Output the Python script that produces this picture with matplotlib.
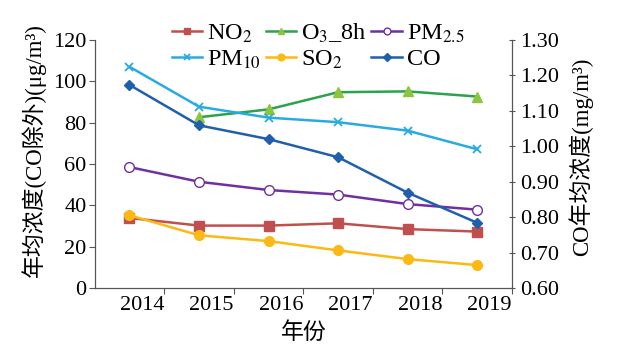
import numpy as np
import matplotlib
matplotlib.use("Agg")
import matplotlib.pyplot as plt

plt.rcParams['font.family'] = ['Liberation Serif', 'Noto Sans CJK SC']
plt.rcParams['mathtext.fontset'] = 'stix'

# annual mean concentrations
years = ['2014', '2015', '2016', '2017', '2018', '2019']
no2 = [33.9, 30.2, 30.2, 31.3, 28.5, 27.3]
o3_8h = [np.nan, 82.6, 86.4, 94.7, 95.1, 92.6]
pm25 = [58.5, 51.4, 47.4, 45.2, 40.6, 37.9]
pm10 = [107.0, 87.7, 82.4, 80.2, 76.1, 67.1]
so2 = [35.2, 25.5, 22.7, 18.2, 14.0, 11.1]
co = [1.173, 1.059, 1.020, 0.969, 0.869, 0.784]  # mg/m3, right axis

fig = plt.figure(figsize=(6.4, 3.53), dpi=100)
ax = fig.add_axes([0.148, 0.184, 0.652, 0.703])
ax2 = ax.twinx()

x = np.arange(len(years))
lw = 1.8
h1, = ax.plot(x, no2, color='#C0504D', lw=lw, marker='s', ms=6.5, label='NO$_2$')
h2, = ax.plot(x, o3_8h, color='#2BA34A', lw=lw, marker='^', ms=7,
              mfc='#8CC63F', mec='#8CC63F', label='O$_3$_8h')
h3, = ax.plot(x, pm25, color='#7030A0', lw=lw, marker='o', ms=7,
              mfc='white', mec='#7030A0', label='PM$_{2.5}$')
h4, = ax.plot(x, pm10, color='#29ABE2', lw=lw, marker='x', ms=6, mew=1.3,
              label='PM$_{10}$')
h5, = ax.plot(x, so2, color='#FDB913', lw=lw, marker='o', ms=7, label='SO$_2$')
h6, = ax2.plot(x, co, color='#1F5FAD', lw=lw, marker='D', ms=5.5, label='CO')

ax.set_xlim(-0.5, 5.5)
ax.set_ylim(0, 120)
ax.set_yticks(np.arange(0, 121, 20))
ax2.set_ylim(0.6, 1.3)
ax2.set_yticks(np.arange(0.6, 1.31, 0.1))
ax2.set_yticklabels([f'{v:.2f}' for v in np.arange(0.6, 1.31, 0.1)])

ax.set_xticks(x + 0.5)
ax.set_xticklabels(years, ha='right')

for a in (ax, ax2):
    a.spines['top'].set_visible(False)
    for s in a.spines.values():
        s.set_color('#555555')
ax.tick_params(axis='both', labelsize=16, direction='out', length=4, color='#555555', pad=2)
ax2.tick_params(axis='y', labelsize=16, direction='inout', length=5, color='#555555', pad=3)

ax.set_xlabel('年份', fontsize=16.5, labelpad=5)
ax.set_ylabel('年均浓度(CO除外)(μg/m³)', fontsize=16.5)
ax.yaxis.set_label_coords(-0.118, 0.555)
ax2.set_ylabel('CO年均浓度(mg/m³)', fontsize=16.5)
ax2.yaxis.set_label_coords(1.135, 0.53)

# row-wise order like the original legend
fig.legend(handles=[h1, h4, h2, h5, h3, h6], loc='upper left',
           bbox_to_anchor=(0.253, 0.967), ncol=3, frameon=False, fontsize=17.5,
           handlelength=1.25, handletextpad=0.2, columnspacing=0.2,
           labelspacing=0.15, borderaxespad=0, markerscale=0.7)

fig.savefig('out.png', dpi=100)
